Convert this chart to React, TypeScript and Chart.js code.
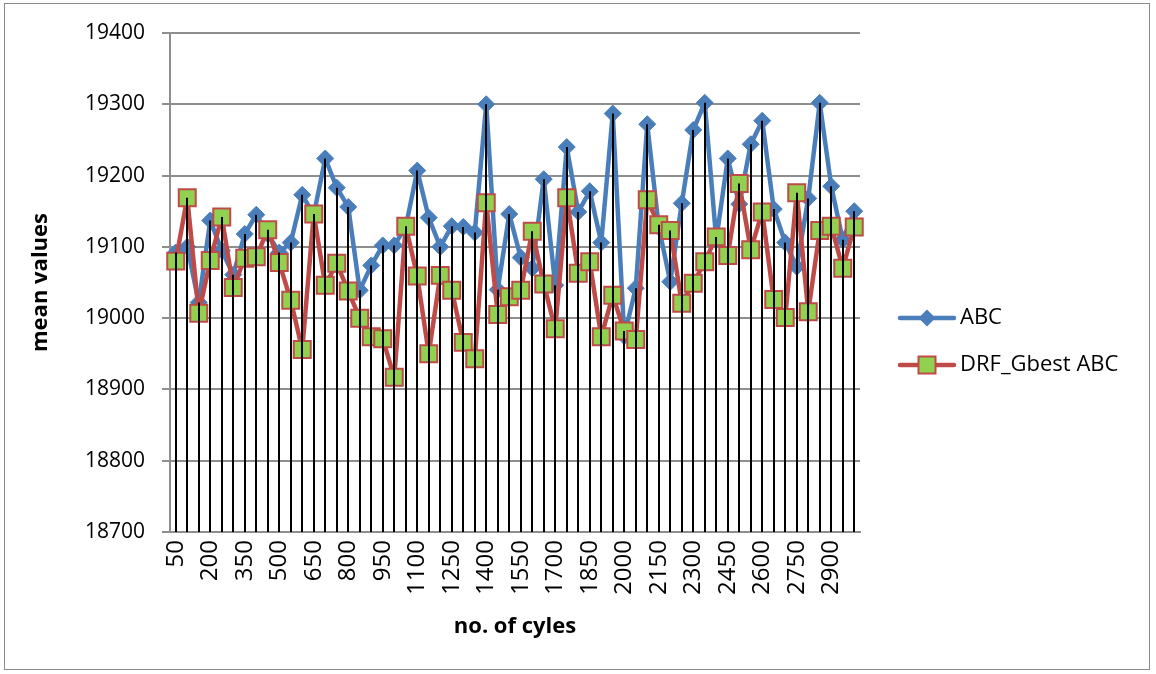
import React, { useEffect, useRef } from "react";
import { Chart, registerables } from "chart.js";

Chart.register(...registerables);

const cycles = [
  "50", "100", "150", "200", "250", "300", "350", "400", "450", "500",
  "550", "600", "650", "700", "750", "800", "850", "900", "950", "1000",
  "1050", "1100", "1150", "1200", "1250", "1300", "1350", "1400", "1450", "1500",
  "1550", "1600", "1650", "1700", "1750", "1800", "1850", "1900", "1950", "2000",
  "2050", "2100", "2150", "2200", "2250", "2300", "2350", "2400", "2450", "2500",
  "2550", "2600", "2650", "2700", "2750", "2800", "2850", "2900", "2950", "3000",
];

const abcValues = [
  19092, 19100, 19022, 19137, 19095, 19061, 19118, 19145, 19118, 19092,
  19106, 19173, 19145, 19224, 19183, 19156, 19039, 19074, 19102, 19102,
  19128, 19207, 19141, 19100, 19129, 19128, 19120, 19300, 19040, 19146,
  19085, 19070, 19195, 19046, 19240, 19149, 19178, 19106, 19287, 18975,
  19042, 19272, 19128, 19051, 19161, 19264, 19302, 19110, 19224, 19160,
  19244, 19277, 19153, 19106, 19072, 19168, 19302, 19185, 19110, 19150,
];

const drfValues = [
  19080, 19169, 19007, 19081, 19142, 19043, 19084, 19086, 19124, 19078,
  19025, 18956, 19146, 19046, 19077, 19038, 19000, 18974, 18971, 18917,
  19129, 19059, 18950, 19060, 19039, 18966, 18943, 19162, 19005, 19030,
  19039, 19122, 19048, 18985, 19169, 19063, 19079, 18974, 19032, 18982,
  18970, 19166, 19131, 19123, 19021, 19049, 19079, 19114, 19088, 19189,
  19096, 19149, 19026, 19001, 19176, 19009, 19123, 19129, 19070, 19128,
];

const seriesNames = ["ABC", "DRF_Gbest ABC"];
const yMin = 18700;
const yMax = 19400;
const yStep = 100;
const labelEvery = 3;

const BLUE = "#4A7EBB";
const RED = "#BE4B48";
const GREEN = "#92D050";
const GRID = "#8E8E8E";

function drawDiamond(ctx: CanvasRenderingContext2D, x: number, y: number, r: number) {
  ctx.beginPath();
  ctx.moveTo(x, y - r);
  ctx.lineTo(x + r, y);
  ctx.lineTo(x, y + r);
  ctx.lineTo(x - r, y);
  ctx.closePath();
}

const dropLinesPlugin = {
  id: "dropLines",
  afterDatasetsDraw(chart: any) {
    const { ctx, chartArea } = chart;
    const xs = chart.scales.x;
    const ys = chart.scales.y;
    ctx.save();
    ctx.strokeStyle = "#000000";
    ctx.lineWidth = 2;
    (chart.data.labels as string[]).forEach((_l, i) => {
      const top = Math.max(...chart.data.datasets.map((d: any) => d.data[i] as number));
      const px = Math.round(xs.getPixelForValue(i));
      ctx.beginPath();
      ctx.moveTo(px, ys.getPixelForValue(top));
      ctx.lineTo(px, chartArea.bottom);
      ctx.stroke();
    });
    ctx.restore();
  },
};

const legendPlugin = {
  id: "customLegend",
  afterDraw(chart: any) {
    const { ctx } = chart;
    const x0 = chart.chartArea.right + 40;
    const x1 = x0 + 54;
    const xm = (x0 + x1) / 2;
    const ys = [chart.height / 2 - 19, chart.height / 2 + 28];
    ctx.save();
    ctx.lineCap = "round";
    ctx.strokeStyle = BLUE;
    ctx.lineWidth = 4.5;
    ctx.beginPath();
    ctx.moveTo(x0, ys[0]);
    ctx.lineTo(x1, ys[0]);
    ctx.stroke();
    ctx.fillStyle = BLUE;
    drawDiamond(ctx, xm, ys[0], 8.5);
    ctx.fill();
    ctx.strokeStyle = RED;
    ctx.beginPath();
    ctx.moveTo(x0, ys[1]);
    ctx.lineTo(x1, ys[1]);
    ctx.stroke();
    ctx.fillStyle = GREEN;
    ctx.lineWidth = 2;
    ctx.beginPath();
    ctx.rect(xm - 8.5, ys[1] - 8.5, 17, 17);
    ctx.fill();
    ctx.stroke();
    ctx.fillStyle = "#000000";
    ctx.font = "22px 'Open Sans'";
    ctx.textBaseline = "middle";
    ctx.textAlign = "left";
    ctx.fillText(seriesNames[0], x1 + 6, ys[0]);
    ctx.fillText(seriesNames[1], x1 + 6, ys[1]);
    ctx.restore();
  },
};

export default function App() {
  const canvasRef = useRef<HTMLCanvasElement | null>(null);

  useEffect(() => {
    if (!canvasRef.current) return;
    const chart = new Chart(canvasRef.current, {
      type: "line",
      data: {
        labels: cycles,
        datasets: [
          {
            label: seriesNames[0],
            data: abcValues,
            borderColor: BLUE,
            backgroundColor: BLUE,
            borderWidth: 4.5,
            borderJoinStyle: "round",
            borderCapStyle: "round",
            pointStyle: "rectRot",
            pointRadius: 8.5,
            pointBackgroundColor: BLUE,
            pointBorderColor: BLUE,
            pointBorderWidth: 1,
            tension: 0,
            order: 2,
          },
          {
            label: seriesNames[1],
            data: drfValues,
            borderColor: RED,
            backgroundColor: GREEN,
            borderWidth: 4.5,
            borderJoinStyle: "round",
            borderCapStyle: "round",
            pointStyle: "rect",
            pointRadius: 12,
            pointBackgroundColor: GREEN,
            pointBorderColor: RED,
            pointBorderWidth: 2,
            tension: 0,
            order: 1,
          },
        ],
      },
      options: {
        responsive: false,
        animation: false,
        devicePixelRatio: 1,
        layout: { padding: { top: 33, right: 296, left: 0, bottom: 0 } },
        plugins: {
          legend: { display: false },
          tooltip: { enabled: false },
        },
        scales: {
          x: {
            type: "category",
            offset: true,
            grid: { display: false, drawTicks: false },
            border: { display: true, color: GRID, width: 2 },
            ticks: {
              autoSkip: false,
              maxRotation: 90,
              minRotation: 90,
              padding: 8,
              color: "#000000",
              font: { family: "'Open Sans'", size: 24 },
              callback: (_v: any, i: number) => (i % labelEvery === 0 ? cycles[i] : ""),
            },
            title: {
              display: true,
              text: "no. of cyles",
              color: "#000000",
              font: { family: "'Open Sans'", size: 22, weight: "bold" },
              padding: { top: 0, bottom: 34 },
            },
            afterFit: (s: any) => {
              s.height = 142;
            },
          },
          y: {
            min: yMin,
            max: yMax,
            grid: { color: GRID, lineWidth: 2, tickLength: 8, tickColor: GRID },
            border: { display: true, color: GRID, width: 2 },
            ticks: {
              stepSize: yStep,
              padding: 17,
              color: "#000000",
              font: { family: "'Open Sans'", size: 21 },
              callback: (v: any) => String(v),
            },
            title: {
              display: true,
              text: "mean values",
              color: "#000000",
              font: { family: "'Open Sans'", size: 22, weight: "bold" },
              padding: { top: 28, bottom: 0 },
            },
            afterFit: (s: any) => {
              s.width = 170;
            },
          },
        },
      },
      plugins: [dropLinesPlugin, legendPlugin],
    });
    return () => chart.destroy();
  }, []);

  return (
    <div style={{ position: "fixed", left: 0, top: 0, width: 1156, height: 674, background: "#ffffff" }}>
      <div
        style={{
          position: "absolute",
          left: 4,
          top: 3,
          width: 1146,
          height: 667,
          border: "1.5px solid #8A8A8A",
          boxSizing: "border-box",
        }}
      />
      <canvas ref={canvasRef} width={1156} height={674} style={{ position: "absolute", left: 0, top: 0 }} />
    </div>
  );
}
